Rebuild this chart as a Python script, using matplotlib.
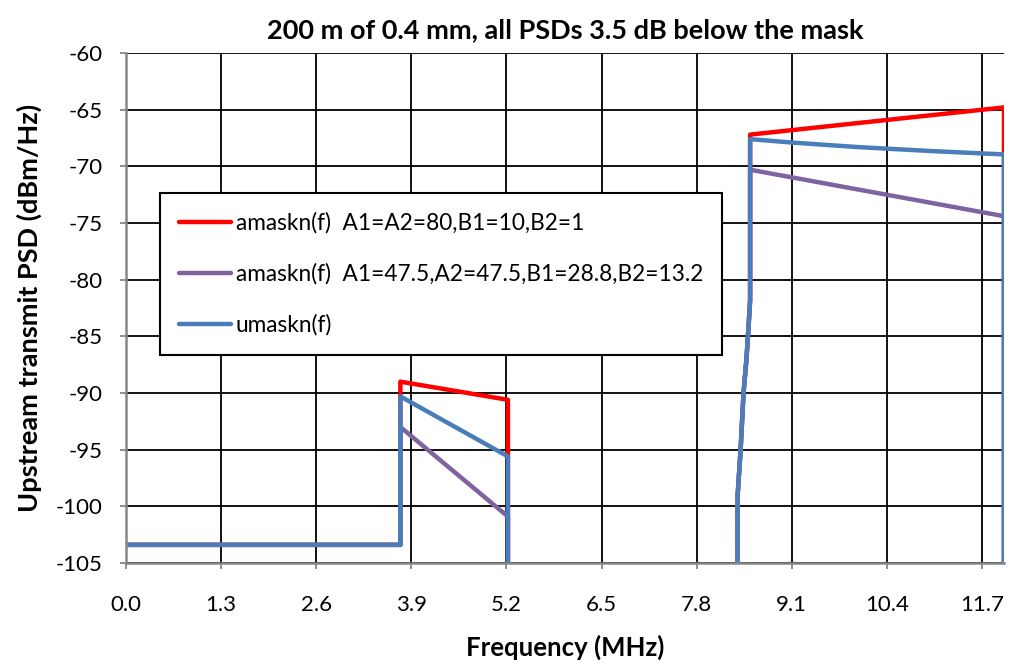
import numpy as np
import matplotlib
matplotlib.use('Agg')
import matplotlib.pyplot as plt

plt.rcParams['font.family'] = ['Lato', 'DejaVu Sans']
plt.rcParams['axes.unicode_minus'] = False

# data (frequency in MHz, PSD in dBm/Hz)
# values below -105 are the "off" parts of the masks (drawn off the chart)
f_red = [0.0, 3.75, 3.75, 5.22, 5.22, 5.22, 8.35, 8.36, 8.40, 8.44, 8.48, 8.51, 8.53, 8.53, 12.0, 12.0, 12.0]
psd_red = [-103.4, -103.4, -89.0, -90.6, -95.6, -115, -115, -99, -95, -90, -87, -84, -81.8, -67.2, -64.8, -68.9, -115]

f_purple = [0.0, 3.75, 3.75, 5.22, 5.22, 8.35, 8.36, 8.40, 8.44, 8.48, 8.51, 8.53, 8.53, 12.0, 12.0]
psd_purple = [-103.4, -103.4, -93.0, -100.9, -115, -115, -99, -95, -90, -87, -84, -81.8, -70.3, -74.4, -115]

f_blue = [0.0, 3.75, 3.75, 5.22, 5.22, 8.35, 8.36, 8.40, 8.44, 8.48, 8.51, 8.53, 8.53, 9.1, 10.0, 11.0, 12.0, 12.0]
psd_blue = [-103.4, -103.4, -90.3, -95.6, -115, -115, -99, -95, -90, -87, -84, -81.8, -67.6, -67.9, -68.3, -68.65, -68.95, -115]

labels = ['amaskn(f)  A1=A2=80,B1=10,B2=1',
          'amaskn(f)  A1=47.5,A2=47.5,B1=28.8,B2=13.2',
          'umaskn(f)']
colors = ['#FF0000', '#7F63A1', '#4A7EBB']

xticks = [0.0, 1.3, 2.6, 3.9, 5.2, 6.5, 7.8, 9.1, 10.4, 11.7]
yticks = list(range(-105, -59, 5))

fig = plt.figure(figsize=(10.1, 6.68), dpi=100)
ax = fig.add_axes([126/1010, 1-563/668, (1004-126)/1010, (563-53)/668])

for f, p, c, lab in zip([f_red, f_purple, f_blue], [psd_red, psd_purple, psd_blue], colors, labels):
    ax.plot(f, p, color=c, lw=3.2, label=lab, solid_joinstyle='round', solid_capstyle='round')

ax.set_xlim(0, 12.0)
ax.set_ylim(-105, -60)
ax.set_xticks(xticks)
ax.set_xticklabels(['%.1f' % x for x in xticks])
ax.set_yticks(yticks)
ax.grid(True, color='black', lw=1.3)
ax.set_axisbelow(True)

for s in ['top', 'right']:
    ax.spines[s].set_visible(False)
for s in ['left', 'bottom']:
    ax.spines[s].set_color('#868686')
    ax.spines[s].set_linewidth(1.8)
ax.tick_params(axis='both', colors='#868686', labelcolor='black', labelsize=16, length=4, width=1.3)
ax.tick_params(axis='x', pad=19)
ax.tick_params(axis='y', pad=13)

ax.set_title('200 m of 0.4 mm, all PSDs 3.5 dB below the mask', fontsize=19.5, fontweight='bold', pad=11)
ax.set_xlabel('Frequency (MHz)', fontsize=18.5, fontweight='bold', labelpad=14)
ax.set_ylabel('Upstream transmit PSD (dBm/Hz)', fontsize=19.5, fontweight='bold', labelpad=10)

leg = ax.legend(loc='upper left', bbox_to_anchor=(160/1010, 1-193/668), bbox_transform=fig.transFigure,
                borderaxespad=0, fancybox=False, edgecolor='black', framealpha=1, fontsize=16.3,
                handlelength=2.3, handletextpad=0.2, labelspacing=1.3, borderpad=0.85)
leg.get_frame().set_linewidth(1.5)

fig.savefig('out.png', dpi=100)
